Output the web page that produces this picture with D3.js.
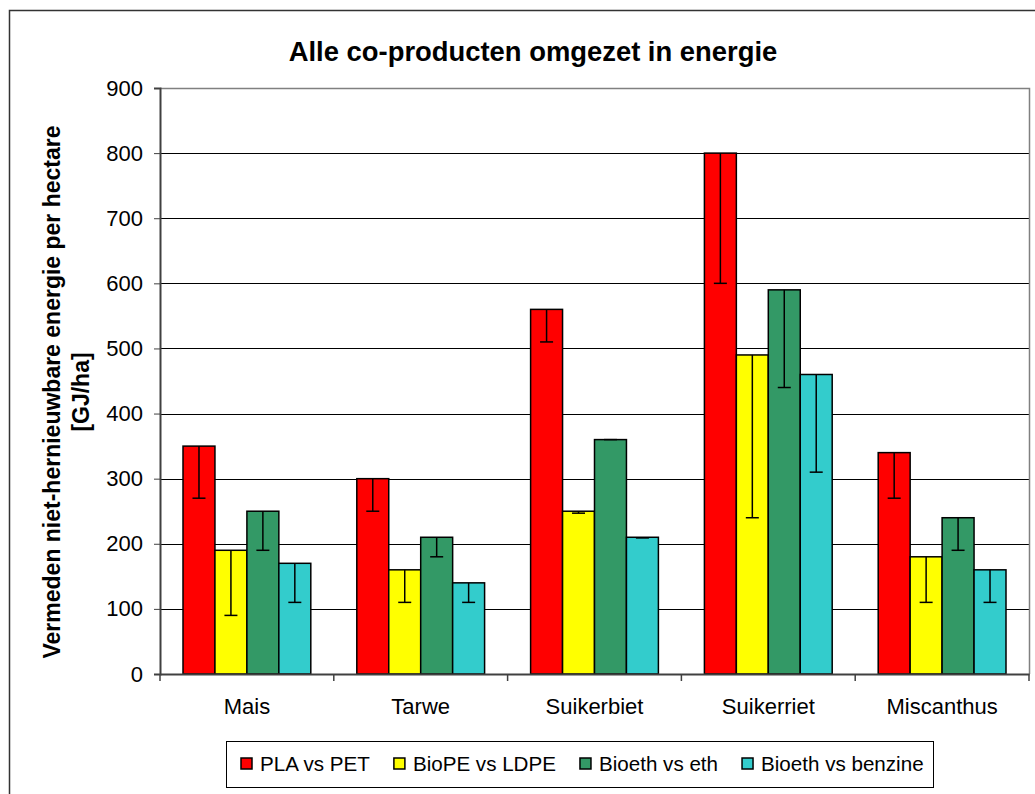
<!DOCTYPE html>
<html>
<head>
<meta charset="utf-8">
<script src="https://cdn.jsdelivr.net/npm/d3@7"></script>
<style>
  body { margin: 0; background: #fff; }
  text { font-family: 'Liberation Sans', Arial, sans-serif; fill: #000; }
</style>
</head>
<body>
<div id="chart"></div>
<script>
// data
var categories = ['Mais', 'Tarwe', 'Suikerbiet', 'Suikerriet', 'Miscanthus'];
var seriesNames = ['PLA vs PET', 'BioPE vs LDPE', 'Bioeth vs eth', 'Bioeth vs benzine'];
var plaVsPet = [350, 300, 560, 800, 340];
var plaVsPetLow = [270, 250, 510, 600, 270];
var biopeVsLdpe = [190, 160, 250, 490, 180];
var biopeVsLdpeLow = [90, 110, 247, 240, 110];
var bioethVsEth = [250, 210, 360, 590, 240];
var bioethVsEthLow = [190, 180, 360, 440, 190];
var bioethVsBenz = [170, 140, 210, 460, 160];
var bioethVsBenzLow = [110, 110, 209, 310, 110];
var yTicks = [0, 100, 200, 300, 400, 500, 600, 700, 800, 900];

var values = [plaVsPet, biopeVsLdpe, bioethVsEth, bioethVsBenz];
var lows = [plaVsPetLow, biopeVsLdpeLow, bioethVsEthLow, bioethVsBenzLow];
var palette = d3.scaleOrdinal()
                .domain(seriesNames)
                .range(['#ff0000', '#ffff00', '#339966', '#33cccc']);

// flatten into rows for drawing
var rows = [];
categories.forEach(function(c, i) {
    seriesNames.forEach(function(s, j) {
        rows.push({cat: c, series: s, value: values[j][i], low: lows[j][i]});
    });
});

const W = 1035, H = 794;
var plot = {left: 160, right: 1029, top: 88, bottom: 674};

var svg = d3.select('#chart')
            .append('svg')
            .attr('width', W)
            .attr('height', H);

// outer border
svg.append('rect')
   .attr('x', 9.5).attr('y', 10.5)
   .attr('width', W + 10).attr('height', H + 10)
   .attr('fill', 'none')
   .attr('stroke', '#333')
   .attr('stroke-width', 1.5);

var x = d3.scaleBand()
          .domain(categories)
          .range([plot.left, plot.right])
          .paddingInner(0).paddingOuter(0);

var xInner = d3.scaleBand()
               .domain(seriesNames)
               .range([0, x.bandwidth()])
               .paddingInner(0).paddingOuter(0.72);

var y = d3.scaleLinear()
          .domain([0, 900])
          .range([plot.bottom, plot.top]);

// gridlines
svg.append('g')
   .selectAll('line')
   .data(yTicks.filter(d => d > 0 && d < 900))
   .enter()
   .append('line')
   .attr('x1', plot.left).attr('x2', plot.right)
   .attr('y1', d => Math.round(y(d)) + 0.5).attr('y2', d => Math.round(y(d)) + 0.5)
   .attr('stroke', '#000')
   .attr('stroke-width', 1);

// plot frame top/right
svg.append('path')
   .attr('d', `M${plot.left},${plot.top + 0.5}H${plot.right + 0.5}V${plot.bottom}`)
   .attr('fill', 'none')
   .attr('stroke', '#808080')
   .attr('stroke-width', 1.5);

// bars
var bars = svg.append('g')
              .selectAll('rect')
              .data(rows)
              .enter()
              .append('rect')
              .attr('x', d => x(d.cat) + xInner(d.series))
              .attr('y', d => y(d.value))
              .attr('width', xInner.bandwidth())
              .attr('height', d => y(0) - y(d.value))
              .attr('fill', d => palette(d.series))
              .attr('stroke', '#000')
              .attr('stroke-width', 1.5);

// error bars (minus only)
var err = svg.append('g')
             .selectAll('g')
             .data(rows)
             .enter()
             .append('g')
             .attr('transform', d => `translate(${x(d.cat) + xInner(d.series) + xInner.bandwidth() / 2}, 0)`);

err.append('line')
   .attr('x1', 0).attr('x2', 0)
   .attr('y1', d => y(d.value)).attr('y2', d => y(d.low))
   .attr('stroke', '#000').attr('stroke-width', 1.5);

err.append('line')
   .attr('x1', -6.5).attr('x2', 6.5)
   .attr('y1', d => y(d.low)).attr('y2', d => y(d.low))
   .attr('stroke', '#000').attr('stroke-width', 1.5);

// y axis
var yAxis = svg.append('g')
               .attr('transform', `translate(${plot.left},0)`)
               .call(d3.axisLeft(y).tickValues(yTicks).tickSize(6).tickPadding(11).tickFormat(d3.format('d')));
yAxis.select('.domain').attr('stroke', '#404040').attr('stroke-width', 2);
yAxis.selectAll('.tick line').attr('stroke', '#404040');
yAxis.selectAll('.tick text')
     .style('font-size', '22px')
     .style('font-family', "'Liberation Sans', Arial, sans-serif");

// x axis
var xAxis = svg.append('g')
               .attr('transform', `translate(0,${plot.bottom})`)
               .call(d3.axisBottom(x).tickSize(0).tickPadding(24));
xAxis.select('.domain').attr('stroke', '#404040').attr('stroke-width', 2);
xAxis.selectAll('.tick text')
     .style('font-size', '22px')
     .style('font-family', "'Liberation Sans', Arial, sans-serif");

// category boundary ticks
svg.append('g')
   .selectAll('line')
   .data(categories.concat(['end']))
   .enter()
   .append('line')
   .attr('x1', (d, i) => plot.left + i * x.step())
   .attr('x2', (d, i) => plot.left + i * x.step())
   .attr('y1', plot.bottom).attr('y2', plot.bottom + 7)
   .attr('stroke', '#404040').attr('stroke-width', 1.5);

// title
svg.append('text')
   .attr('x', 533).attr('y', 61)
   .attr('text-anchor', 'middle')
   .style('font-size', '27.4px')
   .style('font-weight', 'bold')
   .text('Alle co-producten omgezet in energie');

// y label
var yl = svg.append('text')
            .attr('transform', 'translate(0,392) rotate(-90)')
            .attr('text-anchor', 'middle')
            .style('font-size', '23px')
            .style('font-weight', 'bold');
yl.append('tspan').attr('x', 0).attr('y', 60).text('Vermeden niet-hernieuwbare energie per hectare');
yl.append('tspan').attr('x', 0).attr('y', 89).text('[GJ/ha]');

// legend
var legend = svg.append('g');
legend.append('rect')
      .attr('x', 226.5).attr('y', 741.5)
      .attr('width', 707).attr('height', 46)
      .attr('fill', '#fff')
      .attr('stroke', '#000').attr('stroke-width', 1);

var items = legend.selectAll('.item')
                  .data(seriesNames)
                  .enter()
                  .append('g')
                  .attr('class', 'item');
items.append('rect')
     .attr('x', 0).attr('y', -6)
     .attr('width', 11).attr('height', 11)
     .attr('fill', d => palette(d))
     .attr('stroke', '#000').attr('stroke-width', 1.5);
items.append('text')
     .attr('x', 19).attr('y', 7)
     .style('font-size', '20.6px')
     .text(d => d);

// lay items out left to right
var lx = 241;
items.each(function() {
    var g = d3.select(this);
    g.attr('transform', `translate(${lx}, 764)`);
    lx += 19 + g.select('text').node().getComputedTextLength() + 24;
});
</script>
</body>
</html>
